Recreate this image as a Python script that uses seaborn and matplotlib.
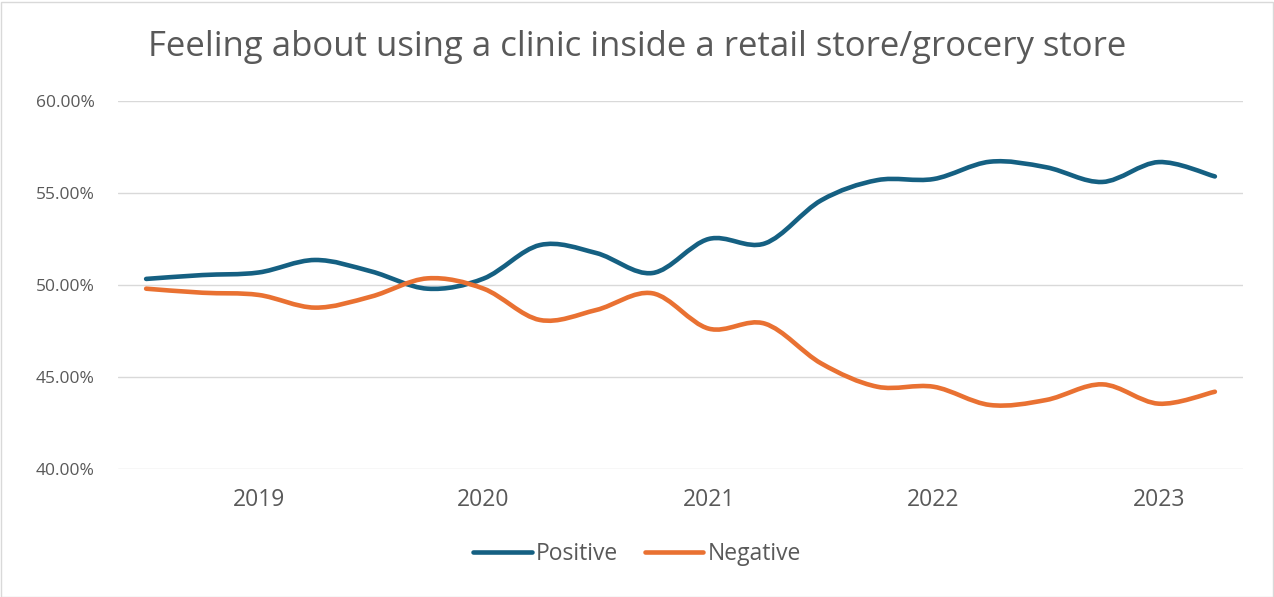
import numpy as np
import pandas as pd
import seaborn as sns
import matplotlib
matplotlib.use("Agg")
import matplotlib.pyplot as plt
from matplotlib.path import Path
from matplotlib.patches import PathPatch, Rectangle
from matplotlib.lines import Line2D
from matplotlib.ticker import FuncFormatter

# ---- data (quarterly) ----
quarters = ["2018 Q3", "2018 Q4",
            "2019 Q1", "2019 Q2", "2019 Q3", "2019 Q4",
            "2020 Q1", "2020 Q2", "2020 Q3", "2020 Q4",
            "2021 Q1", "2021 Q2", "2021 Q3", "2021 Q4",
            "2022 Q1", "2022 Q2", "2022 Q3", "2022 Q4",
            "2023 Q1", "2023 Q2"]
positive = [0.5033, 0.5054, 0.5068, 0.5136, 0.5074, 0.4980,
            0.5035, 0.5217, 0.5174, 0.5065, 0.5250, 0.5226,
            0.5460, 0.5570, 0.5576, 0.5670, 0.5640, 0.5560,
            0.5668, 0.5590]
negative = [0.4980, 0.4958, 0.4946, 0.4877, 0.4937, 0.5036,
            0.4980, 0.4810, 0.4864, 0.4955, 0.4763, 0.4790,
            0.4574, 0.4447, 0.4447, 0.4348, 0.4375, 0.4460,
            0.4355, 0.4420]
year_labels = ["2019", "2020", "2021", "2022", "2023"]
year_quarters = ["2019 Q1", "2020 Q1", "2021 Q1", "2022 Q1", "2023 Q1"]
series_names = ["Positive", "Negative"]
colors = {"Positive": "#156082", "Negative": "#E97132"}
title = "Feeling about using a clinic inside a retail store/grocery store"

df = pd.DataFrame({
    "idx": list(range(len(quarters))) * 2,
    "value": positive + negative,
    "series": ["Positive"] * len(quarters) + ["Negative"] * len(quarters),
})

sns.set_theme(style="white")
plt.rcParams["font.family"] = ["Open Sans", "DejaVu Sans"]
text_color = "#595959"

W, H = 1274, 597
fig = plt.figure(figsize=(W / 100, H / 100), dpi=100)
ax = fig.add_axes([118 / W, 1 - 469 / H, (1243 - 118) / W, (469 - 101) / H])

# invisible seaborn layer establishes the data scales
sns.lineplot(data=df, x="idx", y="value", hue="series", palette=colors,
             linewidth=0, legend=False, ax=ax)


def smooth_path(xs, ys):
    pts = np.column_stack([xs, ys]).astype(float)
    n = len(pts)
    verts = [pts[0]]
    codes = [Path.MOVETO]
    for i in range(n - 1):
        p0 = pts[i - 1] if i > 0 else pts[i]
        p1 = pts[i]
        p2 = pts[i + 1]
        p3 = pts[i + 2] if i + 2 < n else pts[i + 1]
        c1 = p1 + (p2 - p0) / 6.0
        c2 = p2 - (p3 - p1) / 6.0
        verts += [c1, c2, p2]
        codes += [Path.CURVE4] * 3
    return Path(verts, codes)


for name in series_names:
    sub = df[df["series"] == name]
    patch = PathPatch(smooth_path(sub["idx"].values, sub["value"].values),
                      fill=False, edgecolor=colors[name], lw=3.3,
                      capstyle="round", joinstyle="round", zorder=3)
    ax.add_patch(patch)

ax.set_xlim(-0.5, len(quarters) - 0.5)
ax.set_ylim(0.40, 0.60)
ax.set_yticks([0.40, 0.45, 0.50, 0.55, 0.60])
ax.yaxis.set_major_formatter(FuncFormatter(lambda v, p: f"{v * 100:.2f}%"))
ax.set_xticks([quarters.index(q) for q in year_quarters])
ax.set_xticklabels(year_labels)
ax.grid(axis="y", color="#D9D9D9", linewidth=1.0)
ax.grid(axis="x", visible=False)
for s in ax.spines.values():
    s.set_visible(False)
ax.tick_params(axis="both", length=0, colors=text_color)
ax.tick_params(axis="y", pad=17, labelsize=12.5)
ax.tick_params(axis="x", pad=14, labelsize=16.5)
ax.set_xlabel("")
ax.set_ylabel("")

fig.text(0.5, 1 - 56 / H, title, ha="center", va="baseline",
         fontsize=25, color=text_color)

handles = [Line2D([0], [0], color=colors[n], lw=3.3, solid_capstyle="round")
           for n in series_names]
fig.legend(handles, series_names, loc="center", bbox_to_anchor=(0.5, 1 - 554 / H),
           ncol=2, frameon=False, fontsize=16.5, handlelength=2.55,
           handletextpad=0.17, columnspacing=1.18, labelcolor=text_color)

fig.add_artist(Rectangle((0.5 / W, 0.5 / H), 1 - 2 / W, 1 - 2 / H,
                         transform=fig.transFigure, fill=False,
                         edgecolor="#D9D9D9", lw=1))

fig.savefig("out.png", dpi=100)
